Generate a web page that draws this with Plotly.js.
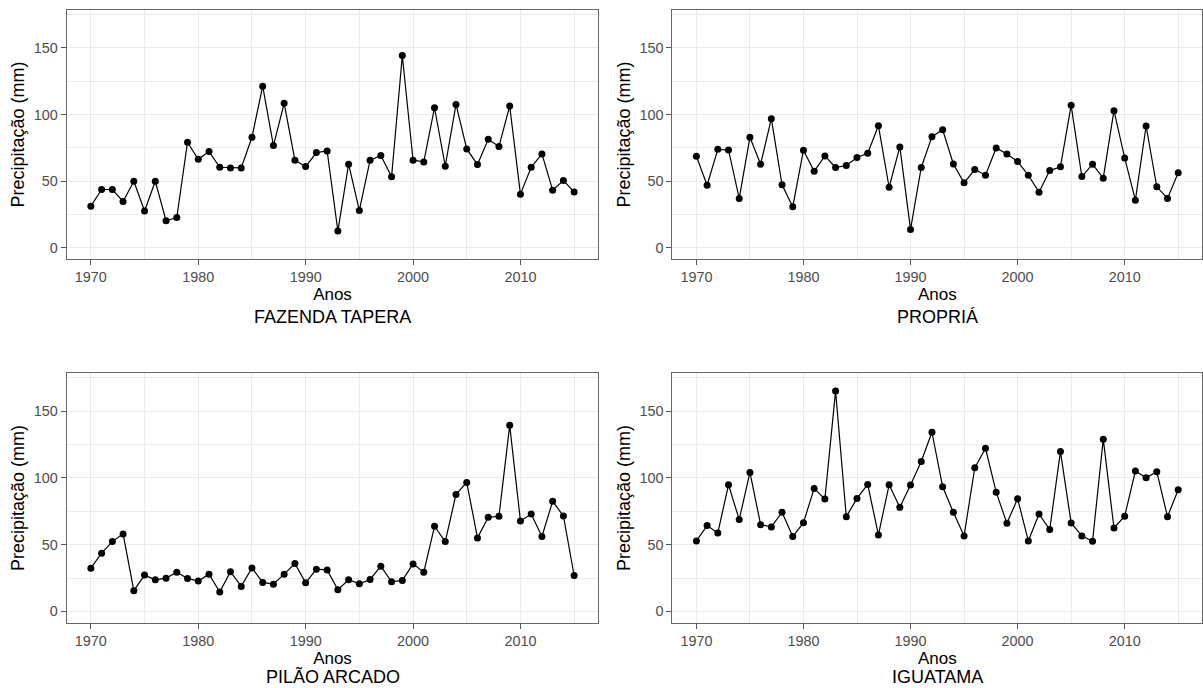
<!DOCTYPE html>
<html>
<head>
<meta charset="utf-8">
<script src="https://cdn.plot.ly/plotly-3.0.1.min.js"></script>
<style>
html,body{margin:0;padding:0;background:#fff;}
#chart{width:1203px;height:688px;}
</style>
</head>
<body>
<div id="chart"></div>
<script>
const years = [1970,1971,1972,1973,1974,1975,1976,1977,1978,1979,1980,1981,1982,1983,1984,1985,1986,1987,1988,1989,1990,1991,1992,1993,1994,1995,1996,1997,1998,1999,2000,2001,2002,2003,2004,2005,2006,2007,2008,2009,2010,2011,2012,2013,2014,2015];

const stationNames = ["FAZENDA TAPERA", "PROPRIÁ", "PILÃO ARCADO", "IGUATAMA"];

const fazendaTapera = [31.2,43.7,43.7,34.7,49.9,27.5,49.9,20.2,22.7,79.2,66.4,72.2,60.4,59.9,59.9,82.9,121.3,76.7,108.4,65.7,60.9,71.4,72.7,12.5,62.7,28.0,65.7,69.2,53.2,144.3,65.7,64.4,105.1,61.2,107.6,74.2,62.4,81.4,75.9,106.4,40.2,60.4,70.4,43.2,50.4,41.9];

const propria = [68.7,46.9,73.9,73.4,37.0,82.9,62.7,96.9,47.2,30.7,73.2,57.4,68.9,60.2,61.7,67.7,70.9,91.6,45.4,75.7,13.7,60.2,83.4,88.6,62.9,48.7,58.7,54.4,74.9,70.4,64.7,54.4,41.7,57.9,60.7,106.9,53.4,62.7,52.2,102.9,67.4,35.7,91.4,45.7,37.0,56.2];

const pilaoArcado = [32.4,43.6,52.3,58.1,15.5,27.2,23.7,24.9,29.4,24.7,22.7,27.9,14.5,29.7,18.7,32.6,21.7,20.4,27.9,35.9,21.4,31.6,31.1,16.2,23.7,20.7,23.9,33.9,22.2,23.2,35.6,29.4,63.8,52.3,87.7,96.7,55.1,70.5,71.3,139.5,67.8,73.0,56.1,82.5,71.5,26.9];

const iguatama = [52.8,64.3,58.8,94.9,68.8,104.2,65.0,63.3,74.3,56.1,66.5,92.2,84.2,165.2,71.0,84.7,95.2,57.3,94.9,78.0,94.7,112.4,134.3,93.4,74.3,56.6,107.6,122.3,89.4,66.0,84.5,52.8,73.0,61.3,119.8,66.3,56.6,52.6,129.1,62.5,71.3,105.2,100.2,104.7,71.0,91.2];

const xTickVals = [1970,1980,1990,2000,2010];
const yTickVals = [0,50,100,150];

const series = [fazendaTapera, propria, pilaoArcado, iguatama];

const W = 1203, H = 688;
// panel frames in pixels: [left, right, top, bottom]
const frames = [
  [66.7, 598.3, 10, 259],
  [672.3, 1202.3, 10, 259],
  [66.7, 598.3, 373.3, 622.7],
  [672.3, 1202.3, 373.3, 622.7]
];

const traces = [];
const layout = {
  width: W, height: H,
  margin: {l:0, r:0, t:0, b:0},
  paper_bgcolor: '#ffffff',
  plot_bgcolor: '#ffffff',
  showlegend: false,
  font: {family: 'Liberation Sans, Arial, sans-serif', color: '#000000'},
  annotations: []
};

series.forEach((vals, i) => {
  const n = i + 1;
  const xa = n === 1 ? 'x' : 'x' + n;
  const ya = n === 1 ? 'y' : 'y' + n;
  traces.push({
    x: years, y: vals, xaxis: xa, yaxis: ya,
    type: 'scatter', mode: 'lines+markers',
    line: {color: '#000000', width: 1.2},
    marker: {color: '#000000', size: 7},
    hoverinfo: 'x+y'
  });
  const f = frames[i];
  const xKey = n === 1 ? 'xaxis' : 'xaxis' + n;
  const yKey = n === 1 ? 'yaxis' : 'yaxis' + n;
  layout[xKey] = {
    domain: [f[0] / W, f[1] / W],
    anchor: ya,
    range: [1967.75, 2017.25],
    tickvals: xTickVals,
    ticktext: xTickVals.map(String),
    ticks: 'outside', ticklen: 5, tickwidth: 1, tickcolor: '#555555',
    tickfont: {size: 14.4, color: '#4D4D4D'},
    showgrid: true, gridcolor: '#EBEBEB', gridwidth: 1.1,
    minor: {dtick: 5, tick0: 1965, showgrid: true, gridcolor: '#EBEBEB', gridwidth: 0.55, ticks: ''},
    zeroline: false,
    showline: true, mirror: true, linecolor: '#666666', linewidth: 1,
    title: {text: 'Anos', font: {size: 17, color: '#000000'}, standoff: 3},
    automargin: false,
    fixedrange: true
  };
  layout[yKey] = {
    domain: [1 - f[3] / H, 1 - f[2] / H],
    anchor: xa,
    range: [-8.5, 178.5],
    tickvals: yTickVals,
    ticktext: yTickVals.map(String),
    ticks: 'outside', ticklen: 5, tickwidth: 1, tickcolor: '#555555',
    tickfont: {size: 14.4, color: '#4D4D4D'},
    showgrid: true, gridcolor: '#EBEBEB', gridwidth: 1.1,
    minor: {dtick: 25, tick0: 0, showgrid: true, gridcolor: '#EBEBEB', gridwidth: 0.55, ticks: ''},
    zeroline: false,
    showline: true, mirror: true, linecolor: '#666666', linewidth: 1,
    title: {text: 'Precipitação (mm)', font: {size: 18, color: '#000000'}, standoff: 4},
    automargin: false,
    fixedrange: true
  };
  const isBottom = i >= 2;
  layout.annotations.push({
    text: stationNames[i],
    xref: 'paper', yref: 'paper',
    x: (f[0] + f[1]) / 2 / W,
    y: isBottom ? 0 : 1 - (f[3] + 58) / H,
    xanchor: 'center', yanchor: isBottom ? 'bottom' : 'middle',
    showarrow: false,
    borderpad: 0,
    font: {size: 18, color: '#000000'}
  });
});

Plotly.newPlot('chart', traces, layout, {displayModeBar: false, staticPlot: false});
</script>
</body>
</html>
